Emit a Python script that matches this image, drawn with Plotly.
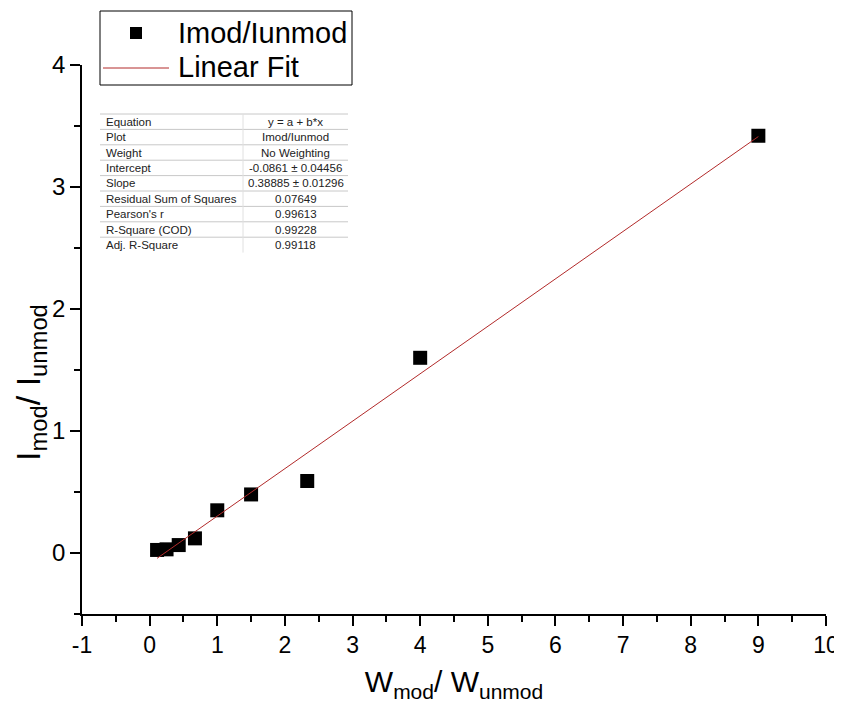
import plotly.graph_objects as go

# ---- data ----
ratio_w = [0.11, 0.25, 0.43, 0.67, 1.0, 1.5, 2.33, 4.0, 9.0]
ratio_i = [0.025, 0.03, 0.065, 0.12, 0.35, 0.48, 0.59, 1.60, 3.42]
fit_intercept = -0.0861
fit_slope = 0.38885
fit_x = [0.11, 9.0]
fit_y = [fit_intercept + fit_slope * v for v in fit_x]

x_tickvals = [-1, 0, 1, 2, 3, 4, 5, 6, 7, 8, 9, 10]
x_ticktext = ["-1", "0", "1", "2", "3", "4", "5", "6", "7", "8", "9", "10"]
y_tickvals = [0, 1, 2, 3, 4]
y_ticktext = ["0", "1", "2", "3", "4"]

series_names = ["Imod/Iunmod", "Linear Fit"]
x_title = "W<sub>mod</sub>/ W<sub>unmod</sub>"
y_title = "I<sub>mod</sub>/ I<sub>unmod</sub>"

table_labels = ["Equation", "Plot", "Weight", "Intercept", "Slope",
                "Residual Sum of Squares", "Pearson's r", "R-Square (COD)",
                "Adj. R-Square"]
table_values = ["y = a + b*x", "Imod/Iunmod", "No Weighting",
                "-0.0861 ± 0.04456", "0.38885 ± 0.01296", "0.07649",
                "0.99613", "0.99228", "0.99118"]

# ---- layout geometry ----
# page body has an 8px margin; figure is sized to fill the rest of the window
OFF = 8
W, H = 842 - OFF, 706 - OFF
L, R, T, B = 74, 16, 57, 92
PW, PH = W - L - R, H - T - B


def px(x):  # window pixel x -> paper x
    return (x - OFF - L) / PW


def py(y):  # window pixel y -> paper y
    return (H + OFF - B - y) / PH


FONT = "Liberation Sans, Arial, sans-serif"
FIT_COLOR = "#b22a2a"

fig = go.Figure()
fig.add_trace(go.Scatter(
    x=ratio_w, y=ratio_i, mode="markers", name=series_names[0],
    marker=dict(symbol="square", size=14, color="black"),
    showlegend=False,
))
fig.add_trace(go.Scatter(
    x=fit_x, y=fit_y, mode="lines", name=series_names[1],
    line=dict(color=FIT_COLOR, width=1),
    showlegend=False,
))

shapes = []
annotations = []

# ---- legend box (drawn manually for exact placement) ----
shapes.append(dict(type="rect", xref="paper", yref="paper",
                   x0=px(100), x1=px(352), y0=py(11), y1=py(85),
                   line=dict(color="black", width=1), fillcolor="white",
                   layer="above"))
shapes.append(dict(type="rect", xref="paper", yref="paper",
                   x0=px(130), x1=px(142), y0=py(27), y1=py(39),
                   line=dict(width=0), fillcolor="black", layer="above"))
shapes.append(dict(type="line", xref="paper", yref="paper",
                   x0=px(103), x1=px(169), y0=py(68), y1=py(68),
                   line=dict(color=FIT_COLOR, width=1), layer="above"))
for name, yc in zip(series_names, [33, 67]):
    annotations.append(dict(xref="paper", yref="paper", x=px(176), y=py(yc),
                            text=name, showarrow=False, xanchor="left",
                            yanchor="middle",
                            font=dict(family=FONT, size=29, color="black")))

# ---- y axis title (placed manually, as in the reference it sits below centre) ----
annotations.append(dict(xref="paper", yref="paper", x=px(30), y=py(383),
                        text=y_title, showarrow=False, textangle=-90,
                        xanchor="center", yanchor="middle",
                        font=dict(family=FONT, size=34, color="black")))

# ---- fit results table ----
row_top = 114
row_h = 15.4
tab_l, tab_div, tab_r = 100, 243, 348
for i, (lab, val) in enumerate(zip(table_labels, table_values)):
    yc = row_top + row_h * (i + 0.5)
    shapes.append(dict(type="line", xref="paper", yref="paper",
                       x0=px(tab_l), x1=px(tab_r),
                       y0=py(row_top + row_h * i), y1=py(row_top + row_h * i),
                       line=dict(color="#c8c8c8", width=1)))
    annotations.append(dict(xref="paper", yref="paper", x=px(104), y=py(yc),
                            text=lab, showarrow=False, xanchor="left",
                            yanchor="middle",
                            font=dict(family=FONT, size=11.5, color="#222")))
    annotations.append(dict(xref="paper", yref="paper",
                            x=px((tab_div + tab_r) / 2), y=py(yc),
                            text=val, showarrow=False, xanchor="center",
                            yanchor="middle",
                            font=dict(family=FONT, size=11.5, color="#222")))
shapes.append(dict(type="line", xref="paper", yref="paper",
                   x0=px(tab_div), x1=px(tab_div),
                   y0=py(row_top), y1=py(row_top + row_h * len(table_labels)),
                   line=dict(color="#e0e0e0", width=1)))

fig.update_layout(
    width=W, height=H,
    margin=dict(l=L, r=R, t=T, b=B, autoexpand=False),
    plot_bgcolor="white", paper_bgcolor="white",
    font=dict(family=FONT, color="black"),
    showlegend=False,
    shapes=shapes,
    annotations=annotations,
)
fig.update_xaxes(
    range=[-1, 10], tickvals=x_tickvals, ticktext=x_ticktext,
    automargin=False,
    showgrid=False, zeroline=False, showline=True, linecolor="black",
    linewidth=1.5, ticks="outside", ticklen=10, tickwidth=1.5,
    tickcolor="black", tickfont=dict(family=FONT, size=23),
    minor=dict(dtick=0.5, ticks="outside", ticklen=6, tickwidth=1.5,
               tickcolor="black", showgrid=False),
    title=dict(text=x_title, font=dict(family=FONT, size=30), standoff=14),
)
fig.update_yaxes(
    range=[-0.5, 4], tickvals=y_tickvals, ticktext=y_ticktext,
    automargin=False,
    showgrid=False, zeroline=False, showline=True, linecolor="black",
    linewidth=1.5, ticks="outside", ticklen=10, tickwidth=1.5,
    tickcolor="black", tickfont=dict(family=FONT, size=24),
    minor=dict(dtick=0.5, ticks="outside", ticklen=6, tickwidth=1.5,
               tickcolor="black", showgrid=False),
)

fig.write_html("out.html")
